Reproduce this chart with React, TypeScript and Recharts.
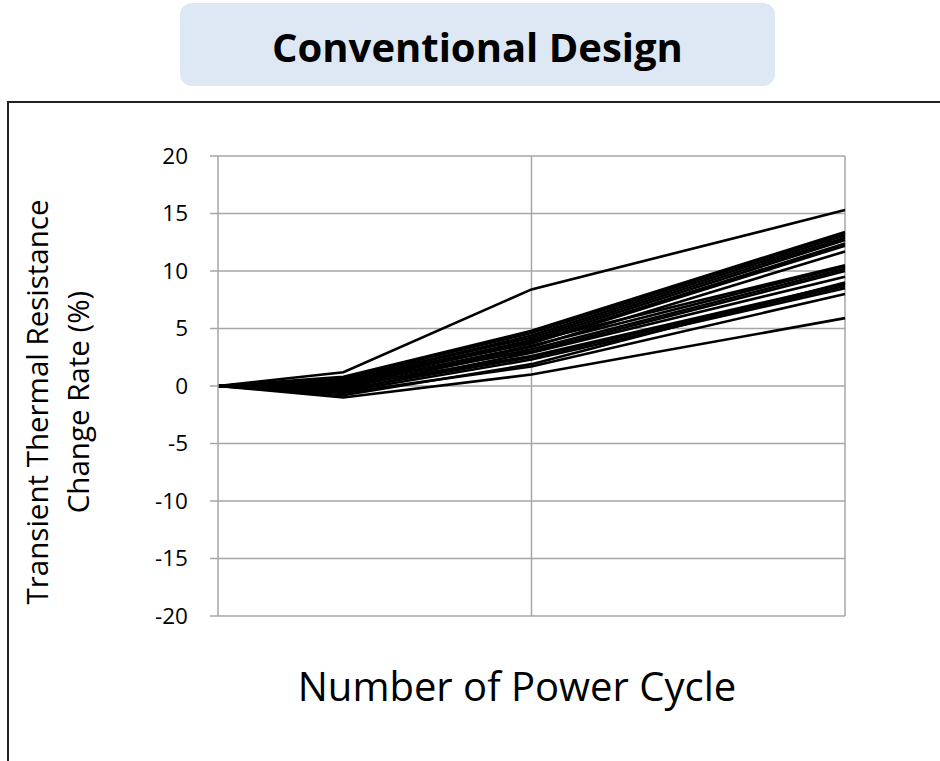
import React from 'react';
import { LineChart, Line, XAxis, YAxis, CartesianGrid, ReferenceLine } from 'recharts';

const cycles = [0, 20000, 50000, 100000];
const yTicks = [-20, -15, -10, -5, 0, 5, 10, 15, 20];

const s1 = [0, 1.2, 8.4, 15.3];
const s2 = [0, 0.8, 4.8, 13.4];
const s3 = [0, 0.7, 4.6, 13.3];
const s4 = [0, 0.5, 4.4, 13.1];
const s5 = [0, 0.6, 4.2, 12.9];
const s6 = [0, 0.3, 4.0, 12.7];
const s7 = [0, 0.2, 3.8, 12.4];
const s8 = [0, 0.4, 3.7, 12.2];
const s9 = [0, 0.0, 3.4, 11.7];
const s10 = [0, 0.5, 3.9, 10.5];
const s11 = [0, 0.1, 3.5, 10.4];
const s12 = [0, -0.2, 3.2, 10.2];
const s13 = [0, 0.3, 3.0, 10.0];
const s14 = [0, -0.4, 2.9, 9.5];
const s15 = [0, 0.0, 2.6, 8.9];
const s16 = [0, -0.3, 2.5, 8.7];
const s17 = [0, -0.5, 2.3, 8.5];
const s18 = [0, -0.6, 1.7, 8.0];
const s19 = [0, -0.8, 1.9, 9.0];
const s20 = [0, -1.0, 1.0, 5.9];

const seriesList = [s1, s2, s3, s4, s5, s6, s7, s8, s9, s10, s11, s12, s13, s14, s15, s16, s17, s18, s19, s20];

const data = cycles.map((c, i) => {
  const row: Record<string, number> = { cycle: c };
  seriesList.forEach((s, k) => {
    row[`s${k + 1}`] = s[i];
  });
  return row;
});

const FONT = '"Open Sans", "Noto Sans", sans-serif';
const GRID = '#a6a6a6';

export default function App() {
  return (
    <div style={{ position: 'absolute', left: 0, top: 0, width: 940, height: 761, overflow: 'hidden', background: '#fff', fontFamily: FONT }}>
      <div
        style={{
          position: 'absolute', left: 180, top: 3, width: 595, height: 83, borderRadius: 12,
          background: '#dee8f5', display: 'flex', alignItems: 'center', justifyContent: 'center',
          fontWeight: 700, fontSize: 40, color: '#000', whiteSpace: 'nowrap', paddingTop: 4, boxSizing: 'border-box',
        }}
      >
        Conventional Design
      </div>
      <div
        style={{
          position: 'absolute', left: 7, top: 101, width: 960, height: 700,
          borderTop: '2px solid #222', borderLeft: '2px solid #222',
        }}
      />
      <div style={{ position: 'absolute', left: 0, top: 0 }}>
        <LineChart width={940} height={761} data={data} margin={{ top: 156, right: 95, bottom: 145, left: 158 }}>
          <CartesianGrid vertical={false} stroke={GRID} strokeWidth={1.5} />
          <XAxis dataKey="cycle" type="number" domain={[0, 100000]} hide />
          <YAxis
            width={60}
            domain={[-20, 20]}
            ticks={yTicks}
            interval={0}
            tick={{ fill: '#000', fontSize: 22.5, fontFamily: FONT }}
            tickLine={{ stroke: GRID, strokeWidth: 1.5 }}
            axisLine={{ stroke: GRID, strokeWidth: 1.5 }}
            tickSize={8}
            tickMargin={22}
          />
          <ReferenceLine x={50000} stroke={GRID} strokeWidth={1.5} />
          <ReferenceLine x={100000} stroke={GRID} strokeWidth={1.5} />
          {seriesList.map((_, k) => (
            <Line
              key={k}
              type="linear"
              dataKey={`s${k + 1}`}
              stroke="#000"
              strokeWidth={2.6}
              dot={false}
              isAnimationActive={false}
            />
          ))}
        </LineChart>
      </div>
      <div
        style={{
          position: 'absolute', left: 37, top: 402, transform: 'translate(-50%, -50%) rotate(-90deg)',
          fontSize: 29.5, whiteSpace: 'nowrap', color: '#000', lineHeight: 1,
        }}
      >
        Transient Thermal Resistance
      </div>
      <div
        style={{
          position: 'absolute', left: 78, top: 402, transform: 'translate(-50%, -50%) rotate(-90deg)',
          fontSize: 29.5, whiteSpace: 'nowrap', color: '#000', lineHeight: 1,
        }}
      >
        Change Rate (%)
      </div>
      <div
        style={{
          position: 'absolute', left: 517, top: 686, transform: 'translate(-50%, -50%)',
          fontSize: 40, whiteSpace: 'nowrap', color: '#000', lineHeight: 1,
        }}
      >
        Number of Power Cycle
      </div>
    </div>
  );
}
